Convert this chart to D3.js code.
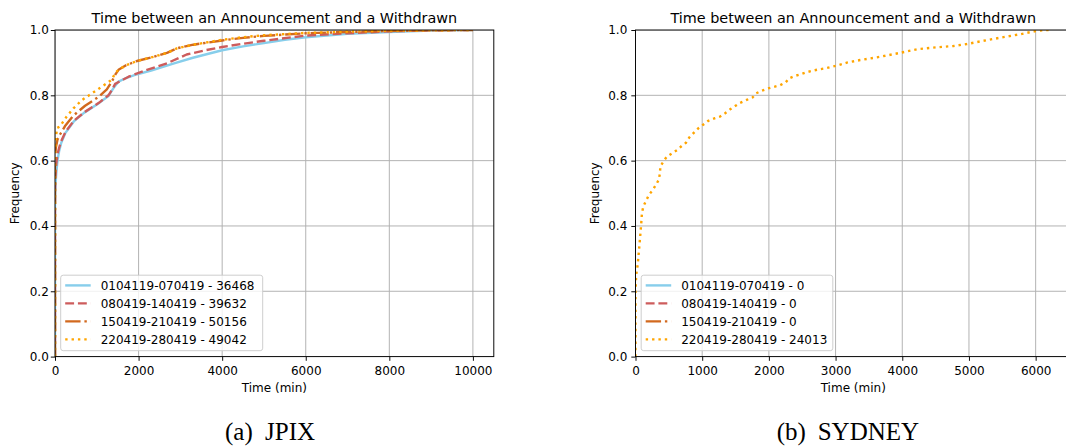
<!DOCTYPE html>
<html>
<head>
<meta charset="utf-8">
<script src="https://cdn.jsdelivr.net/npm/d3@7"></script>
<style>
  html, body { margin: 0; padding: 0; background: #fff; }
  svg { display: block; }
  text { font-family: "DejaVu Sans", sans-serif; fill: #000; }
</style>
</head>
<body>
<svg id="chart" width="1066" height="447"></svg>
<script>
// ---------------- DATA ----------------
const seriesNames = ["0104119-070419", "080419-140419", "150419-210419", "220419-280419"];
const jpixCounts = [36468, 39632, 50156, 49042];
const sydneyCounts = [0, 0, 0, 24013];
const chartTitle = "Time between an Announcement and a Withdrawn";
const xLabel = "Time (min)";
const yLabel = "Frequency";
const jpixXTicks = [0, 2000, 4000, 6000, 8000, 10000];
const sydneyXTicks = [0, 1000, 2000, 3000, 4000, 5000, 6000];
const yTicks = [0.0, 0.2, 0.4, 0.6, 0.8, 1.0];
const captions = [["(a)", "JPIX"], ["(b)", "SYDNEY"]];

// JPIX CDFs: [time (min), cumulative frequency]
const jpix0104119 = [[0,0],[0,0.47],[10,0.52],[30,0.56],[60,0.60],[100,0.63],[150,0.655],[250,0.685],[450,0.72],[700,0.747],[1050,0.776],[1280,0.798],[1330,0.808],[1400,0.822],[1520,0.842],[1700,0.853],[1900,0.862],[2300,0.876],[2850,0.898],[3300,0.915],[4000,0.938],[4500,0.95],[5000,0.96],[5500,0.97],[6000,0.978],[7000,0.988],[8000,0.994],[9000,0.998],[10000,1.0]];
const jpix080419 = [[0,0],[0,0.50],[10,0.55],[30,0.59],[60,0.62],[100,0.64],[150,0.66],[250,0.688],[450,0.722],[700,0.748],[1050,0.777],[1280,0.80],[1340,0.812],[1440,0.835],[1760,0.857],[2200,0.878],[2680,0.898],[3150,0.925],[3600,0.938],[4000,0.948],[4500,0.958],[5000,0.967],[6000,0.983],[7000,0.99],[8000,0.996],[9000,0.999],[10000,1.0]];
const jpix150419 = [[0,0],[0,0.60],[20,0.64],[60,0.665],[120,0.68],[240,0.706],[440,0.738],[720,0.768],[1040,0.795],[1240,0.818],[1360,0.842],[1450,0.865],[1520,0.878],[1700,0.892],[1960,0.905],[2360,0.918],[2680,0.93],[2920,0.944],[3310,0.955],[4000,0.968],[4500,0.976],[5000,0.982],[6000,0.99],[7000,0.994],[8000,0.997],[9000,0.999],[10000,1.0]];
const jpix220419 = [[0,0],[0,0.62],[20,0.67],[50,0.70],[120,0.705],[280,0.735],[440,0.76],[640,0.785],[1000,0.816],[1240,0.837],[1360,0.848],[1440,0.868],[1520,0.878],[1700,0.892],[1960,0.905],[2360,0.918],[2680,0.93],[2920,0.944],[3310,0.955],[4000,0.97],[4500,0.978],[5000,0.984],[6000,0.991],[7000,0.995],[8000,0.998],[9000,0.999],[10000,1.0]];

// SYDNEY CDFs (only the last period has data)
const sydney0104119 = [];
const sydney080419 = [];
const sydney150419 = [];
const sydney220419 = [[0,0],[0,0.2],[10,0.25],[33,0.281],[53,0.327],[67,0.36],[83,0.40],[97,0.44],[117,0.459],[157,0.477],[202,0.495],[258,0.51],[307,0.526],[348,0.541],[367,0.561],[372,0.582],[417,0.597],[468,0.612],[552,0.623],[627,0.633],[693,0.645],[758,0.655],[807,0.671],[877,0.686],[942,0.699],[1008,0.709],[1092,0.722],[1193,0.73],[1268,0.735],[1343,0.745],[1418,0.757],[1493,0.767],[1568,0.777],[1668,0.786],[1758,0.794],[1808,0.806],[1893,0.814],[1983,0.821],[2078,0.826],[2168,0.831],[2253,0.84],[2303,0.852],[2383,0.859],[2468,0.864],[2568,0.871],[2668,0.876],[2768,0.88],[2858,0.883],[2958,0.888],[3058,0.893],[3168,0.9],[3368,0.908],[3668,0.918],[3968,0.93],[4218,0.941],[4518,0.947],[4768,0.951],[4968,0.957],[5068,0.961],[5268,0.969],[5568,0.98],[5768,0.987],[5958,0.995],[6118,1.0],[6243,1.0]];

// ---------------- STYLES ----------------
const seriesColors = ["#87CEEB", "#CD5C5C", "#D2691E", "#FFA500"];
const LW = 2.4;
const seriesDash = [null, [3.7*LW, 1.6*LW], [6.4*LW, 1.6*LW, 1*LW, 1.6*LW], [1*LW, 1.65*LW]];

const svg = d3.select("#chart");

function drawPanel(cfg) {
  const x = d3.scaleLinear().domain(cfg.xDomain).range([cfg.left, cfg.right]);
  const y = d3.scaleLinear().domain([0, 1]).range([cfg.bottom, cfg.top]);
  const g = svg.append("g");
  const clipId = "clip" + cfg.id;
  svg.append("clipPath").attr("id", clipId).append("rect")
    .attr("x", cfg.left).attr("y", cfg.top)
    .attr("width", cfg.right - cfg.left).attr("height", cfg.bottom - cfg.top);

  // grid
  const grid = g.append("g").attr("clip-path", `url(#${clipId})`);
  grid.selectAll(".gx").data(cfg.xTicks).enter().append("line")
    .attr("x1", d => x(d)).attr("x2", d => x(d))
    .attr("y1", cfg.top).attr("y2", cfg.bottom)
    .attr("stroke", "#b0b0b0").attr("stroke-width", 0.96);
  grid.selectAll(".gy").data(yTicks).enter().append("line")
    .attr("y1", d => y(d)).attr("y2", d => y(d))
    .attr("x1", cfg.left).attr("x2", cfg.right)
    .attr("stroke", "#b0b0b0").attr("stroke-width", 0.96);

  // lines
  const line = d3.line().x(d => x(d[0])).y(d => y(d[1]));
  const lines = g.append("g").attr("clip-path", `url(#${clipId})`);
  cfg.series.forEach((s, i) => {
    if (!s.length) return;
    lines.append("path").datum(s)
      .attr("d", line)
      .attr("fill", "none")
      .attr("stroke", seriesColors[i])
      .attr("stroke-width", LW)
      .attr("stroke-linejoin", "round")
      .attr("stroke-dasharray", seriesDash[i] ? seriesDash[i].join(",") : null);
  });

  // spines
  g.append("rect")
    .attr("x", cfg.left).attr("y", cfg.top)
    .attr("width", cfg.right - cfg.left).attr("height", cfg.bottom - cfg.top)
    .attr("fill", "none").attr("stroke", "#000").attr("stroke-width", 0.96);

  // axes
  const xAxis = d3.axisBottom(x).tickValues(cfg.xTicks).tickFormat(d3.format("d"))
    .tickSize(4.2).tickPadding(6).tickSizeOuter(0);
  const gx = g.append("g").attr("transform", `translate(0,${cfg.bottom})`).call(xAxis);
  gx.select(".domain").remove();
  gx.selectAll("text").style("font-size", "12px").style("font-family", "DejaVu Sans");
  gx.selectAll("line").attr("stroke-width", 0.96);

  const yAxis = d3.axisLeft(y).tickValues(yTicks).tickFormat(d3.format(".1f"))
    .tickSize(4.2).tickPadding(cfg.yPad).tickSizeOuter(0);
  const gy = g.append("g").attr("transform", `translate(${cfg.left},0)`).call(yAxis);
  gy.select(".domain").remove();
  gy.selectAll("text").style("font-size", "12px").style("font-family", "DejaVu Sans");
  gy.selectAll("line").attr("stroke-width", 0.96);

  const cx = (cfg.left + cfg.right) / 2;
  // title
  g.append("text").attr("x", cx).attr("y", 22.5)
    .attr("text-anchor", "middle").style("font-size", "14.4px").text(chartTitle);
  // x label
  g.append("text").attr("x", cx).attr("y", 391.5)
    .attr("text-anchor", "middle").style("font-size", "12px").text(xLabel);
  // y label
  g.append("text")
    .attr("transform", `translate(${cfg.left - 36.5},${(cfg.top + cfg.bottom) / 2}) rotate(-90)`)
    .attr("text-anchor", "middle").style("font-size", "12px").text(yLabel);

  // legend
  const lg = g.append("g");
  const lx = cfg.left + 5.7, lyTop = 275.2, lh = 75.5;
  lg.append("rect").attr("x", lx).attr("y", lyTop).attr("width", cfg.legendW).attr("height", lh)
    .attr("rx", 2.5).attr("ry", 2.5)
    .attr("fill", "#fff").attr("fill-opacity", 0.8)
    .attr("stroke", "#cccccc").attr("stroke-width", 0.96);
  seriesNames.forEach((name, i) => {
    const ry = 285.4 + i * 18;
    lg.append("line")
      .attr("x1", lx + 4.5).attr("x2", lx + 30)
      .attr("y1", ry).attr("y2", ry)
      .attr("stroke", seriesColors[i]).attr("stroke-width", LW)
      .attr("stroke-dasharray", seriesDash[i] ? seriesDash[i].join(",") : null);
    lg.append("text").attr("x", lx + 40).attr("y", ry + 4.4)
      .style("font-size", "12px").text(`${name} - ${cfg.counts[i]}`);
  });
}

drawPanel({
  id: "a", left: 55, right: 493.8, top: 30, bottom: 356.6,
  xDomain: [0, 10500], xTicks: jpixXTicks, yPad: 2,
  series: [jpix0104119, jpix080419, jpix150419, jpix220419],
  counts: jpixCounts, legendW: 202
});
drawPanel({
  id: "b", left: 635.5, right: 1071, top: 30, bottom: 356.6,
  xDomain: [0, 6530], xTicks: sydneyXTicks, yPad: 4,
  series: [sydney0104119, sydney080419, sydney150419, sydney220419],
  counts: sydneyCounts, legendW: 191.6
});

// captions
const capPos = [[225, 265], [776.7, 817.7]];
captions.forEach((c, i) => {
  svg.append("text").attr("x", capPos[i][0]).attr("y", 440)
    .style("font-family", "Liberation Serif").style("font-size", "25px").text(c[0]);
  svg.append("text").attr("x", capPos[i][1]).attr("y", 440)
    .style("font-family", "Liberation Serif").style("font-size", "25px").text(c[1]);
});
</script>
</body>
</html>
